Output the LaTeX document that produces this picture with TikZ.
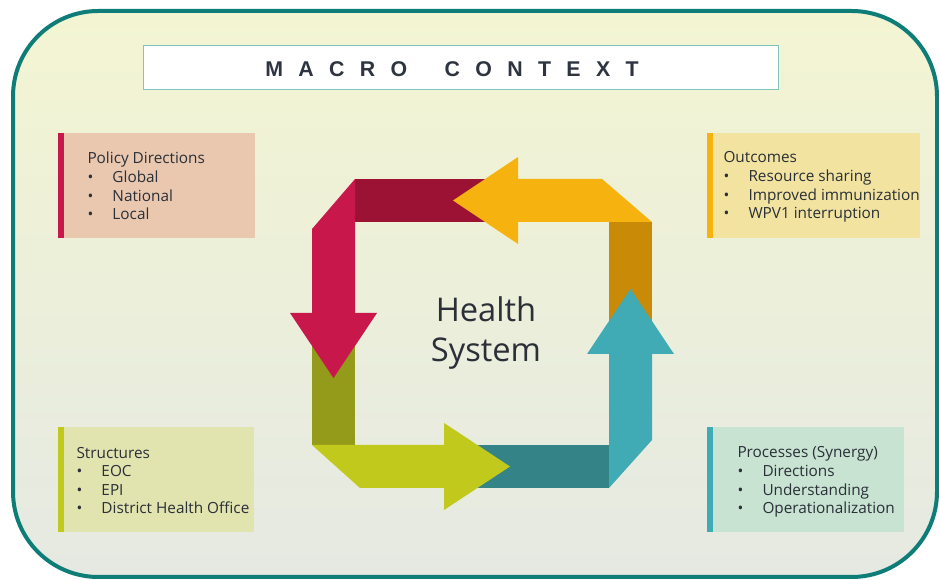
\documentclass[tikz,border=0pt]{standalone}
\usepackage{fontspec}
\setmainfont{Open Sans}
\newfontfamily\capsfont[LetterSpace=72]{Liberation Sans}

\tikzset{every picture/.style={line width=0.75pt}}
\tikzset{
  boxtext/.style={anchor=west, align=left, inner sep=0pt, text={rgb, 255:red, 42; green, 47; blue, 56 }, font=\fontsize{11.5}{13.95}\selectfont},
  crimson/.style={fill={rgb, 255:red, 200; green, 23; blue, 74 }},
  maroon/.style={fill={rgb, 255:red, 155; green, 18; blue, 53 }},
  amber/.style={fill={rgb, 255:red, 246; green, 179; blue, 15 }},
  ochre/.style={fill={rgb, 255:red, 201; green, 138; blue, 8 }},
  teal/.style={fill={rgb, 255:red, 64; green, 170; blue, 181 }},
  deepteal/.style={fill={rgb, 255:red, 51; green, 131; blue, 135 }},
  lime/.style={fill={rgb, 255:red, 193; green, 202; blue, 28 }},
  olive/.style={fill={rgb, 255:red, 148; green, 154; blue, 26 }},
}
\newcommand{\itm}[1]{\makebox[18.75pt][l]{\textbullet}#1}

\begin{document}
\begin{tikzpicture}[x=0.75pt,y=0.75pt,yscale=-1,xscale=1]
\useasboundingbox (0,0) rectangle (939,580);

% Frame
\shade [top color={rgb, 255:red, 243; green, 245; blue, 210 }, middle color={rgb, 255:red, 237; green, 240; blue, 192 }, bottom color={rgb, 255:red, 229; green, 233; blue, 226 }, rounded corners=64pt] (13,11) rectangle (937,577);
\draw [draw={rgb, 255:red, 14; green, 125; blue, 120 }, line width=3pt, rounded corners=64pt] (13,11) rectangle (937,577);

% Text Node
\draw [fill={rgb, 255:red, 255; green, 255; blue, 255 }, draw={rgb, 255:red, 128; green, 196; blue, 192 }] (143,46) rectangle (778,90);
\node [font=\capsfont\bfseries\fontsize{16}{18}\selectfont, text={rgb, 255:red, 46; green, 52; blue, 64 }] (macro) at (452,69) {MACRO\hspace{12pt} CONTEXT};

% Ribbon bands
\fill [maroon] (355,179) rectangle (500,222);
\fill [ochre] (609,222) rectangle (652,340);
\fill [deepteal] (460,445) rectangle (609,488);
\fill [olive] (312,330) rectangle (355,445);

% Arrows
\fill [crimson] (312,229) -- (355,179) -- (355,313) -- (377,313) -- (333.5,378) -- (290,313) -- (312,313) -- cycle;
\fill [amber] (453,200.5) -- (518,157) -- (518,179) -- (602,179) -- (652,222) -- (518,222) -- (518,244) -- cycle;
\fill [teal] (630.5,289) -- (674,354) -- (652,354) -- (652,440) -- (609,488) -- (609,354) -- (587,354) -- cycle;
\fill [lime] (312,445) -- (444,445) -- (444,423) -- (510,466.5) -- (444,510) -- (444,488) -- (360,488) -- cycle;

\node [align=center, font=\fontsize{24.5}{30}\selectfont, text={rgb, 255:red, 42; green, 47; blue, 56 }] (health) at (486,333) {Health\\System};

% Text Node
\fill [fill={rgb, 255:red, 233; green, 200; blue, 175 }] (58,133) rectangle (255,238);
\fill [crimson] (58,133) rectangle (64,238);
\node [boxtext] (policy) at (87,186) {Policy Directions\\\itm{Global}\\\itm{National}\\\itm{Local}};
% Text Node
\fill [fill={rgb, 255:red, 242; green, 228; blue, 160 }] (707,133) rectangle (920,238);
\fill [amber] (707,133) rectangle (713,238);
\node [boxtext] (outcomes) at (723,187) {Outcomes\\\itm{Resource sharing}\\\itm{Improved immunization}\\\itm{WPV1 interruption}};
% Text Node
\fill [fill={rgb, 255:red, 225; green, 228; blue, 175 }] (58,427) rectangle (254,532);
\fill [lime] (58,427) rectangle (64,532);
\node [boxtext] (structures) at (76,480.5) {Structures\\\itm{EOC}\\\itm{EPI}\\\itm{District Health Office}};
% Text Node
\fill [fill={rgb, 255:red, 200; green, 227; blue, 210 }] (707,427) rectangle (904,532);
\fill [teal] (707,427) rectangle (713,532);
\node [boxtext] (processes) at (737,482) {Processes (Synergy)\\\itm{Directions}\\\itm{Understanding}\\\itm{Operationalization}};

\end{tikzpicture}
\end{document}
